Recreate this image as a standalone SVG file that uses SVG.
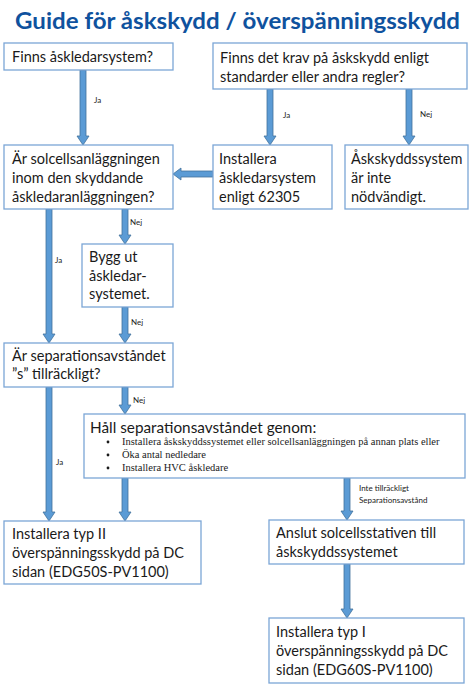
<svg xmlns="http://www.w3.org/2000/svg" width="473" height="695" viewBox="0 0 473 695">
<style>
.box{fill:#fff;stroke:#7BA6D6;stroke-width:1.3}
.t{font-family:Lato,"Open Sans",sans-serif;font-size:14.5px;fill:#1a1a1a}
.h{font-family:Lato,"Open Sans",sans-serif;font-size:15.3px;fill:#1a1a1a}
.b{font-family:"Liberation Serif",serif;font-size:10.5px;fill:#1a1a1a}
.lbl{font-family:Lato,"Open Sans",sans-serif;font-size:8px;fill:#222}
.arr{fill:#5B9BD5;stroke:#41719C;stroke-width:0.8}
.title{font-family:Lato,"Open Sans",sans-serif;font-weight:bold;font-size:23px;fill:#0F529E}
</style>
<rect width="473" height="695" fill="#fff"/>
<text class="title" x="15" y="29" textLength="445" lengthAdjust="spacingAndGlyphs">Guide för åskskydd / överspänningsskydd</text>

<g id="connectors">
<path class="arr" d="M80 70 L86 70 L86 136 L89 136 L83 145 L77 136 L80 136 Z"/>
<path class="arr" d="M267 89 L273 89 L273 136 L276 136 L270 145 L264 136 L267 136 Z"/>
<path class="arr" d="M406 89 L412 89 L412 136 L415 136 L409 145 L403 136 L406 136 Z"/>
<path class="arr" d="M213 171 L213 177 L181 177 L181 180 L173 174 L181 168 L181 171 Z"/>
<path class="arr" d="M46 209 L52 209 L52 334 L55 334 L49 343 L43 334 L46 334 Z"/>
<path class="arr" d="M122 209 L128 209 L128 235 L131 235 L125 244 L119 235 L122 235 Z"/>
<path class="arr" d="M122 307 L128 307 L128 334 L131 334 L125 343 L119 334 L122 334 Z"/>
<path class="arr" d="M46 387 L52 387 L52 512 L55 512 L49 521 L43 512 L46 512 Z"/>
<path class="arr" d="M122 387 L128 387 L128 405 L131 405 L125 414 L119 405 L122 405 Z"/>
<path class="arr" d="M122 478 L128 478 L128 512 L131 512 L125 521 L119 512 L122 512 Z"/>
<path class="arr" d="M344 478 L350 478 L350 511 L353 511 L347 520 L341 511 L344 511 Z"/>
<path class="arr" d="M344 564 L350 564 L350 609 L353 609 L347 618 L341 609 L344 609 Z"/>
<text class="lbl" x="94" y="103">Ja</text>
<text class="lbl" x="283" y="118">Ja</text>
<text class="lbl" x="420" y="117">Nej</text>
<text class="lbl" x="55" y="263">Ja</text>
<text class="lbl" x="130" y="225">Nej</text>
<text class="lbl" x="131" y="325">Nej</text>
<text class="lbl" x="56" y="465">Ja</text>
<text class="lbl" x="133" y="403">Nej</text>
<text class="lbl" x="359" y="491">Inte tillräckligt</text>
<text class="lbl" x="359" y="503">Separationsavstånd</text>
</g>

<g id="n1"><rect class="box" x="4" y="43" width="169" height="27"/>
<text class="t" x="12" y="62">Finns åskledarsystem?</text></g>

<g id="n2"><rect class="box" x="213" y="43" width="254" height="46"/>
<text class="t" x="220" y="63">Finns det krav på åskskydd enligt</text>
<text class="t" x="220" y="82">standarder eller andra regler?</text></g>

<g id="n3"><rect class="box" x="4" y="145" width="169" height="64"/>
<text class="t" x="12" y="164">Är solcellsanläggningen</text>
<text class="t" x="12" y="183">inom den skyddande</text>
<text class="t" x="12" y="202">åskledaranläggningen?</text></g>

<g id="n4"><rect class="box" x="213" y="145" width="119" height="64"/>
<text class="t" x="219" y="164">Installera</text>
<text class="t" x="219" y="183">åskledarsystem</text>
<text class="t" x="219" y="202">enligt 62305</text></g>

<g id="n5"><rect class="box" x="345" y="145" width="123" height="64"/>
<text class="t" x="351" y="164">Åskskyddssystem</text>
<text class="t" x="351" y="183">är inte</text>
<text class="t" x="351" y="202">nödvändigt.</text></g>

<g id="n6"><rect class="box" x="82" y="244" width="91" height="63"/>
<text class="t" x="89" y="262">Bygg ut</text>
<text class="t" x="89" y="281">åskledar-</text>
<text class="t" x="89" y="299">systemet.</text></g>

<g id="n7"><rect class="box" x="4" y="343" width="169" height="44"/>
<text class="t" x="12" y="361">Är separationsavståndet</text>
<text class="t" x="12" y="379">”s” tillräckligt?</text></g>

<g id="n8"><rect class="box" x="84" y="414" width="381" height="64"/>
<text class="h" x="90" y="433">Håll separationsavståndet genom:</text>
<circle cx="108" cy="442" r="1.4" fill="#1a1a1a"/>
<circle cx="108" cy="455" r="1.4" fill="#1a1a1a"/>
<circle cx="108" cy="468" r="1.4" fill="#1a1a1a"/>
<text class="b" x="122" y="445">Installera åskskyddssystemet eller solcellsanläggningen på annan plats eller</text>
<text class="b" x="122" y="458">Öka antal nedledare</text>
<text class="b" x="122" y="471">Installera HVC åskledare</text></g>

<g id="n9"><rect class="box" x="4" y="521" width="197" height="63"/>
<text class="t" x="12" y="539">Installera typ II</text>
<text class="t" x="12" y="558">överspänningsskydd på DC</text>
<text class="t" x="12" y="577">sidan (EDG50S-PV1100)</text></g>

<g id="n10"><rect class="box" x="269" y="520" width="195" height="44"/>
<text class="t" x="276" y="538">Anslut solcellsstativen till</text>
<text class="t" x="276" y="557">åskskyddssystemet</text></g>

<g id="n11"><rect class="box" x="269" y="618" width="195" height="65"/>
<text class="t" x="276" y="637">Installera typ I</text>
<text class="t" x="276" y="656">överspänningsskydd på DC</text>
<text class="t" x="276" y="675">sidan (EDG60S-PV1100)</text></g>
</svg>
